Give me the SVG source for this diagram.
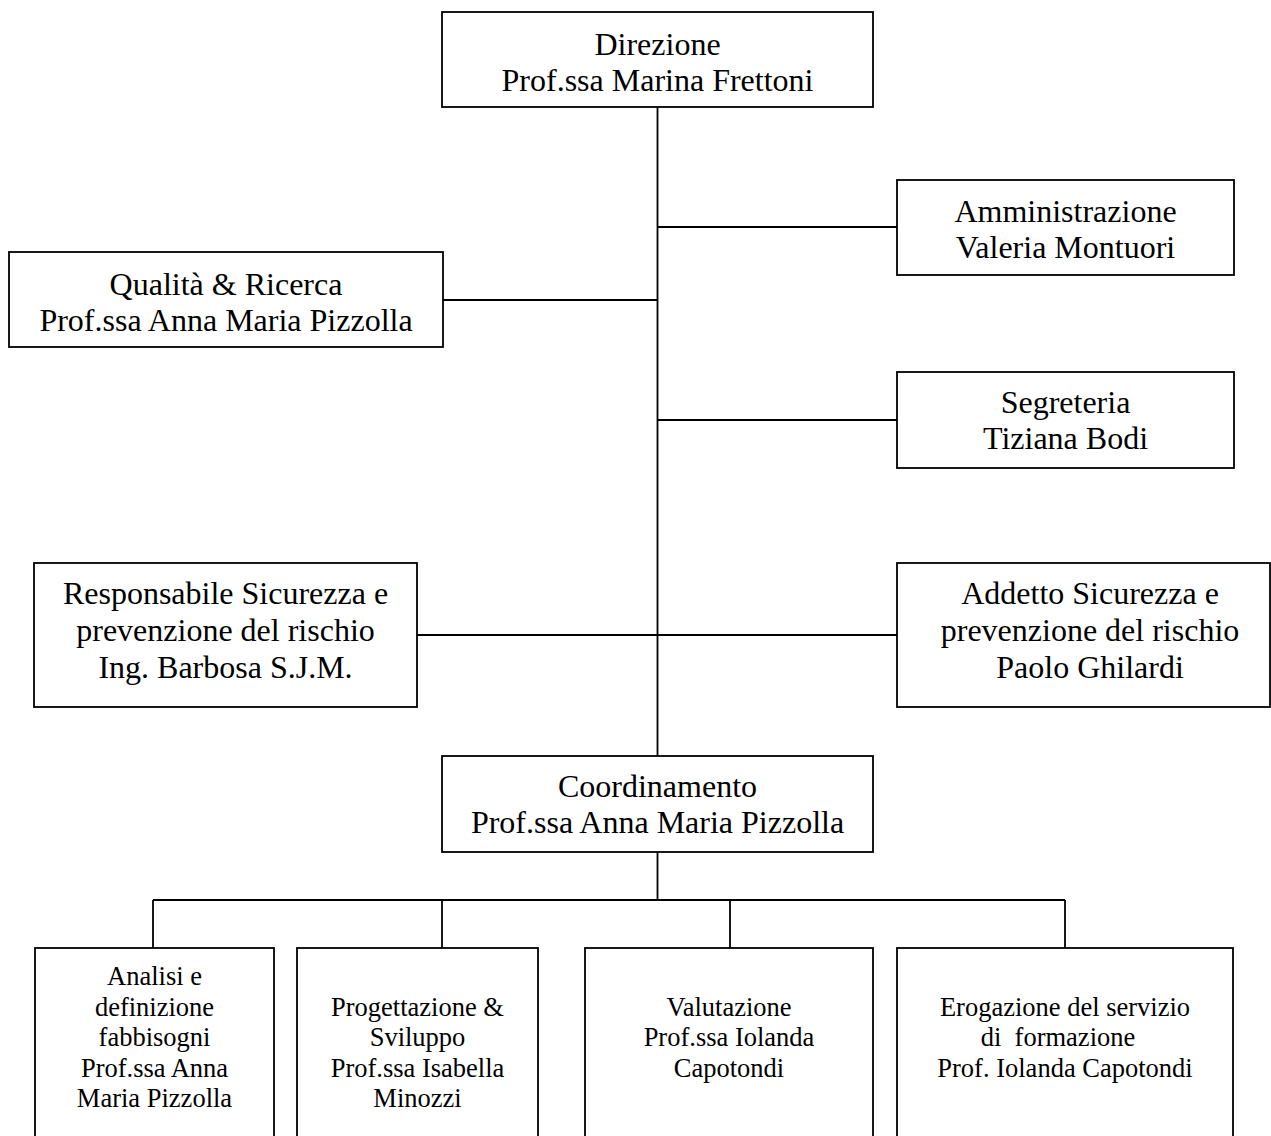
<svg xmlns="http://www.w3.org/2000/svg" width="1271" height="1136" viewBox="0 0 1271 1136">
<style>
.box{fill:#fff;stroke:#000;stroke-width:1.8}
.t{font-family:"Liberation Serif","Times New Roman",serif;font-size:32px;fill:#000;text-anchor:middle}
.s{font-family:"Liberation Serif","Times New Roman",serif;font-size:26.5px;fill:#000;text-anchor:middle}
.c{fill:none;stroke:#000;stroke-width:1.8}
</style>
<rect width="1271" height="1136" fill="#fff"/>
<g id="connectors">
<path class="c" d="M657.5 107V756M657.5 852V900M657.5 227H897M443 300H657.5M657.5 420H897M417 635H897M153 900H1065M153 900V948M442 900V948M730 900V948M1065 900V948"/>
</g>
<g id="direzione">
<rect class="box" x="442" y="12" width="431" height="95"/>
<text class="t" x="657.5" y="55">Direzione</text>
<text class="t" x="657.5" y="91">Prof.ssa Marina Frettoni</text>
</g>
<g id="amministrazione">
<rect class="box" x="897" y="180" width="337" height="95"/>
<text class="t" x="1065.5" y="222">Amministrazione</text>
<text class="t" x="1065.5" y="258">Valeria Montuori</text>
</g>
<g id="qualita">
<rect class="box" x="9" y="252" width="434" height="95"/>
<text class="t" x="226" y="295">Qualità &amp; Ricerca</text>
<text class="t" x="226" y="331">Prof.ssa Anna Maria Pizzolla</text>
</g>
<g id="segreteria">
<rect class="box" x="897" y="372" width="337" height="96"/>
<text class="t" x="1065.5" y="413">Segreteria</text>
<text class="t" x="1065.5" y="449">Tiziana Bodi</text>
</g>
<g id="responsabile">
<rect class="box" x="34" y="563" width="383" height="144"/>
<text class="t" x="225.5" y="604">Responsabile Sicurezza e</text>
<text class="t" x="225.5" y="641">prevenzione del rischio</text>
<text class="t" x="225.5" y="678">Ing. Barbosa S.J.M.</text>
</g>
<g id="addetto">
<rect class="box" x="897" y="563" width="373" height="144"/>
<text class="t" x="1090" y="604">Addetto Sicurezza e</text>
<text class="t" x="1090" y="641">prevenzione del rischio</text>
<text class="t" x="1090" y="678">Paolo Ghilardi</text>
</g>
<g id="coordinamento">
<rect class="box" x="442" y="756" width="431" height="96"/>
<text class="t" x="657.5" y="797">Coordinamento</text>
<text class="t" x="657.5" y="833">Prof.ssa Anna Maria Pizzolla</text>
</g>
<g id="analisi">
<rect class="box" x="35" y="948" width="239" height="210"/>
<text class="s" x="154.5" y="985">Analisi e</text>
<text class="s" x="154.5" y="1016">definizione</text>
<text class="s" x="154.5" y="1046">fabbisogni</text>
<text class="s" x="154.5" y="1077">Prof.ssa Anna</text>
<text class="s" x="154.5" y="1107">Maria Pizzolla</text>
</g>
<g id="progettazione">
<rect class="box" x="297" y="948" width="241" height="210"/>
<text class="s" x="417.5" y="1016">Progettazione &amp;</text>
<text class="s" x="417.5" y="1046">Sviluppo</text>
<text class="s" x="417.5" y="1077">Prof.ssa Isabella</text>
<text class="s" x="417.5" y="1107">Minozzi</text>
</g>
<g id="valutazione">
<rect class="box" x="585" y="948" width="288" height="210"/>
<text class="s" x="729" y="1016">Valutazione</text>
<text class="s" x="729" y="1046">Prof.ssa Iolanda</text>
<text class="s" x="729" y="1077">Capotondi</text>
</g>
<g id="erogazione">
<rect class="box" x="897" y="948" width="336" height="210"/>
<text class="s" x="1065" y="1016">Erogazione del servizio</text>
<text class="s" x="1058" y="1046" xml:space="preserve">di  formazione</text>
<text class="s" x="1065" y="1077">Prof. Iolanda Capotondi</text>
</g>
</svg>
